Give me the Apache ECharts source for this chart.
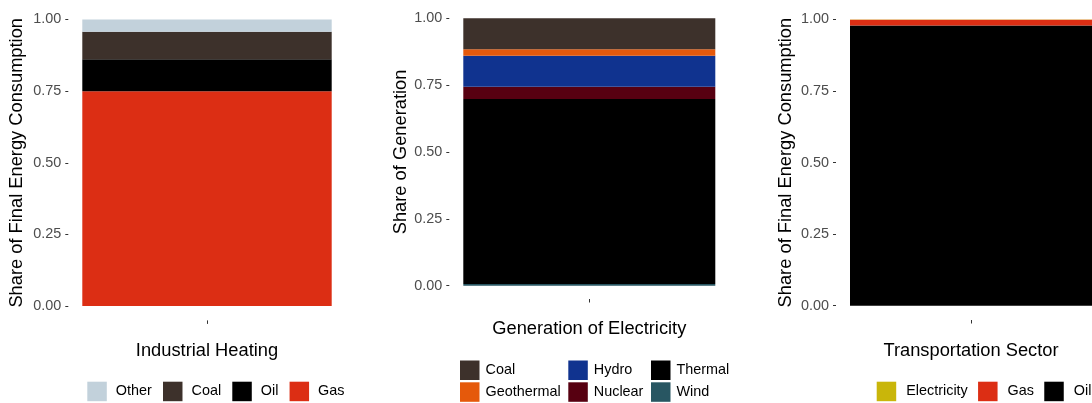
<!DOCTYPE html>
<html>
<head>
<meta charset="utf-8">
<script src="https://cdn.jsdelivr.net/npm/echarts@6/dist/echarts.min.js"></script>
<style>
html,body{margin:0;padding:0;background:#fff;}
#chart{width:1092px;height:403px;}
</style>
</head>
<body>
<div id="chart"></div>
<script>
// ---- data (stack order bottom -> top) ----
const heatingCats = ['Gas', 'Oil', 'Coal', 'Other'];
const heatingVals = [0.750, 0.111, 0.096, 0.043];
const heatingLegend = ['Other', 'Coal', 'Oil', 'Gas'];

const genCats = ['Wind', 'Thermal', 'Nuclear', 'Hydro', 'Geothermal', 'Coal'];
const genVals = [0.006, 0.692, 0.046, 0.116, 0.024, 0.116];
const genLegendCols = [['Coal', 'Geothermal'], ['Hydro', 'Nuclear'], ['Thermal', 'Wind']];

const transCats = ['Oil', 'Gas', 'Electricity'];
const transVals = [0.979, 0.020, 0.001];
const transLegend = ['Electricity', 'Gas', 'Oil'];

const yTicks = [0, 0.25, 0.5, 0.75, 1];
const panelTitles = ['Industrial Heating', 'Generation of Electricity', 'Transportation Sector'];
const yTitles = ['Share of Final Energy Consumption', 'Share of Generation', 'Share of Final Energy Consumption'];

const colors = {
  Other: '#C2D1DB', Coal: '#3D312B', Oil: '#000000', Gas: '#DC2E14',
  Geothermal: '#E5590B', Hydro: '#10338F', Nuclear: '#570011', Thermal: '#000000', Wind: '#285662',
  Electricity: '#C9B60A'
};

const FONT = '"Liberation Sans", Arial, sans-serif';
// grid spans the expanded y range [-0.05, 1.05]
const grids = [
  {left: 82.3, top: 5.2, width: 249.4, height: 315.2},
  {left: 463.3, top: 4.9, width: 252, height: 294.1},
  {left: 850, top: 5.2, width: 250, height: 314.8}
];
const yNameGaps = [42, 38, 41];
const xNameGaps = [22, 21, 22];

const xAxes = grids.map((g, i) => ({
  type: 'category', gridIndex: i, data: [''],
  axisLine: {show: false, onZero: false},
  axisTick: {show: true, length: 3.5, alignWithLabel: true, lineStyle: {color: '#333', width: 1}},
  axisLabel: {show: false},
  name: panelTitles[i], nameLocation: 'middle', nameGap: xNameGaps[i],
  nameTextStyle: {fontFamily: FONT, fontSize: 18.3, color: '#000'}
}));
const yAxes = grids.map((g, i) => ({
  type: 'value', gridIndex: i, min: -0.05, max: 1.05, offset: 14,
  axisLine: {show: false, onZero: false},
  axisTick: {show: true, length: 3, customValues: yTicks, lineStyle: {color: '#333', width: 1}},
  splitLine: {show: false},
  axisLabel: {margin: 7, customValues: yTicks, fontFamily: FONT, fontSize: 14.4, color: '#4D4D4D',
    formatter: v => v.toFixed(2)},
  name: yTitles[i], nameLocation: 'middle', nameGap: yNameGaps[i],
  nameTextStyle: {fontFamily: FONT, fontSize: 18.3, color: '#000'}
}));

function makeSeries(cats, vals, idx, stackName) {
  return cats.map((c, k) => ({
    name: c, type: 'bar', stack: stackName, xAxisIndex: idx, yAxisIndex: idx,
    barWidth: '100%', data: [vals[k]], itemStyle: {color: colors[c]},
    emphasis: {disabled: true}, animation: false
  }));
}
const series = [
  ...makeSeries(heatingCats, heatingVals, 0, 's0'),
  ...makeSeries(genCats, genVals, 1, 's1'),
  ...makeSeries(transCats, transVals, 2, 's2')
];

const legendBase = {
  padding: 0, icon: 'rect', itemWidth: 19.5, itemHeight: 19.5, selectedMode: false,
  textStyle: {fontFamily: FONT, fontSize: 14.4, color: '#000'}
};
const legends = [
  Object.assign({}, legendBase, {left: 87.3, top: 381.7, width: 400, orient: 'horizontal', itemGap: 11.2,
    data: heatingLegend, textStyle: Object.assign({}, legendBase.textStyle, {padding: [0, 0, 0, 4]})}),
  ...genLegendCols.map((col, j) => Object.assign({}, legendBase, {
    left: [460, 568.3, 651][j], top: 360.5, orient: 'vertical', itemGap: 2.3, data: col,
    textStyle: Object.assign({}, legendBase.textStyle, {padding: [0, 0, 0, 1]})
  })),
  Object.assign({}, legendBase, {left: 876.7, top: 381.7, width: 400, orient: 'horizontal', itemGap: 10.3,
    data: transLegend, textStyle: Object.assign({}, legendBase.textStyle, {padding: [0, 0, 0, 5]})})
];

const chart = echarts.init(document.getElementById('chart'), null, {renderer: 'canvas'});
chart.setOption({
  backgroundColor: '#fff',
  animation: false,
  grid: grids,
  xAxis: xAxes,
  yAxis: yAxes,
  legend: legends,
  series: series
});
</script>
</body>
</html>
